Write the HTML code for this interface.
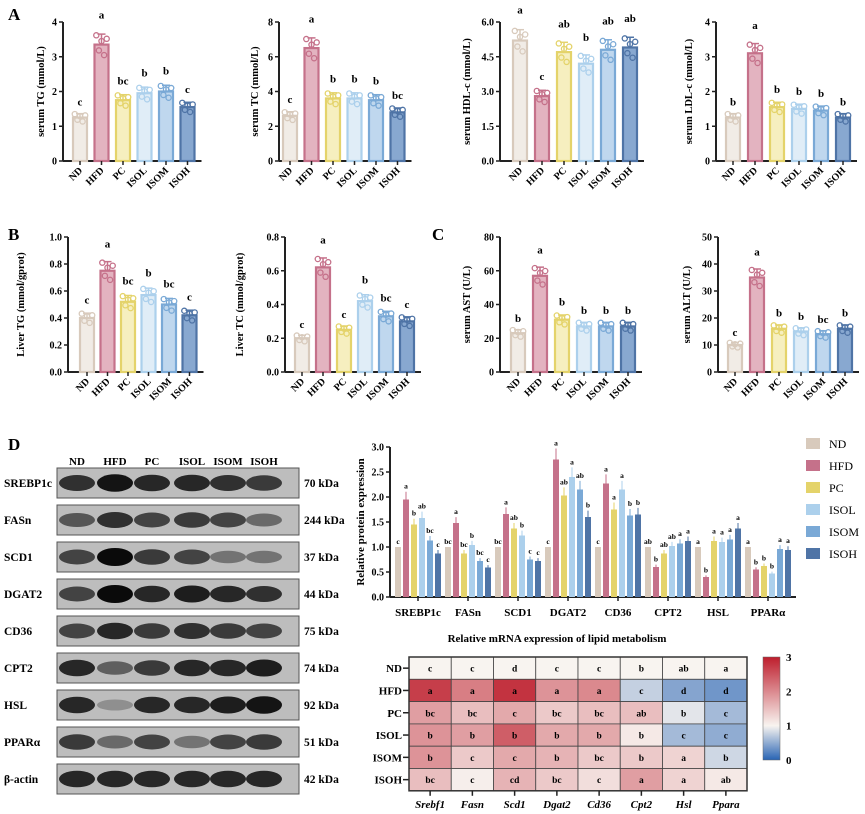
<!DOCTYPE html>
<html><head><meta charset="utf-8"><style>
body{margin:0;background:#fff}
svg{display:block;font-family:"Liberation Serif",serif;font-weight:bold}
</style></head><body>
<svg id="fig" width="865" height="814" viewBox="0 0 865 814"></svg>
<script>
const groups=["ND","HFD","PC","ISOL","ISOM","ISOH"];
const fills=["#f1ece6","#e3b3c0","#f6efbf","#e0edf7","#bfd7ee","#88a8d0"];
const strokes=["#d8cabc","#c5718a","#e4d36a","#acd0ec","#7aa9d6","#4f74a6"];
const tgVals=[1.25,3.35,1.75,1.95,2.0,1.55];const tgLet=["c","a","bc","b","b","c"];
const tcVals=[2.6,6.5,3.6,3.6,3.5,2.8];const tcLet=["c","a","b","b","b","bc"];
const hdlVals=[5.2,2.8,4.7,4.2,4.8,4.9];const hdlLet=["a","c","ab","b","ab","ab"];
const ldlVals=[1.25,3.1,1.55,1.5,1.45,1.25];const ldlLet=["b","a","b","b","b","b"];
const ltgVals=[0.4,0.75,0.52,0.57,0.5,0.42];const ltgLet=["c","a","bc","b","bc","c"];
const ltcVals=[0.2,0.62,0.25,0.42,0.33,0.3];const ltcLet=["c","a","c","b","bc","c"];
const astVals=[23,57,31,27,27,27];const astLet=["b","a","b","b","b","b"];
const altVals=[10,35,16,15,14,16];const altLet=["c","a","b","b","bc","b"];
const ticks4=["0","1","2","3","4"],ticks8=["0","2","4","6","8"],ticksHdl=["0.0","1.5","3.0","4.5","6.0"];
const ticksL1=["0.0","0.2","0.4","0.6","0.8","1.0"],ticksL08=["0.0","0.2","0.4","0.6","0.8"];
const ticks80=["0","20","40","60","80"],ticks50=["0","10","20","30","40","50"];
const proteins=["SREBP1c","FASn","SCD1","DGAT2","CD36","CPT2","HSL","PPARα"];
const protVals=[[1,1.95,1.45,1.58,1.13,0.87],[1,1.48,0.87,1.04,0.72,0.59],[1,1.66,1.37,1.23,0.75,0.72],[1,2.75,2.03,2.4,2.15,1.6],[1,2.27,1.75,2.15,1.63,1.65],[1,0.6,0.87,1.02,1.07,1.12],[1,0.4,1.12,1.1,1.15,1.37],[1,0.55,0.62,0.47,0.96,0.94]];
const protLet=[["c","a","b","ab","bc","c"],["bc","a","bc","b","bc","c"],["bc","a","ab","b","c","c"],["c","a","ab","a","ab","b"],["c","a","a","a","b","b"],["ab","b","ab","ab","a","a"],["a","b","a","a","a","a"],["a","b","b","b","a","a"]];
const protTicks=["0.0","0.5","1.0","1.5","2.0","2.5","3.0"];
const genes=["Srebf1","Fasn","Scd1","Dgat2","Cd36","Cpt2","Hsl","Ppara"];
const heatVals=[[1,1,1,1,1,1,1,1],[2.7,2.1,2.8,1.9,2.0,0.75,0.45,0.35],[1.8,1.5,1.7,1.4,1.5,1.5,0.9,0.6],[1.9,1.8,2.4,1.7,1.7,1.1,0.6,0.5],[1.9,1.4,1.7,1.6,1.4,1.4,1.3,0.8],[1.5,1.05,1.6,1.4,1.2,1.8,1.3,1.1]];
const heatLet=[["c","c","d","c","c","b","ab","a"],["a","a","a","a","a","c","d","d"],["bc","bc","c","bc","bc","ab","b","c"],["b","b","b","b","b","b","c","c"],["b","c","c","b","bc","b","a","b"],["bc","c","cd","bc","c","a","a","ab"]];
const blotRows=["SREBP1c","FASn","SCD1","DGAT2","CD36","CPT2","HSL","PPARα","β-actin"];
const blotKda=["70 kDa","244 kDa","37 kDa","44 kDa","75 kDa","74 kDa","92 kDa","51 kDa","42 kDa"];
const blotInt=[[.8,.95,.85,.85,.8,.75],[.6,.8,.7,.75,.7,.5],[.7,1,.75,.7,.45,.45],[.7,1,.85,.9,.85,.8],[.7,.85,.75,.8,.75,.7],[.85,.55,.75,.85,.85,.9],[.85,.3,.85,.85,.9,.95],[.75,.5,.7,.45,.7,.75],[.85,.85,.85,.85,.85,.85]];

const NS="http://www.w3.org/2000/svg";const svg=document.getElementById("fig");
function mk(t,a,p){const e=document.createElementNS(NS,t);for(const k in a)e.setAttribute(k,a[k]);(p||svg).appendChild(e);return e;}
function txt(s,a,p){const e=mk("text",a,p);e.textContent=s;return e;}
const dotOff=[0.08,-0.05,0.03,-0.09,0.05];
function bar(name,ax,x0,step,base,top,ticks,vals,lets,ylab,ylx){
 const g=mk("g",{});
 const tmax=parseFloat(ticks[ticks.length-1]);const y=v=>base-(v/tmax)*(base-top);
 const xEnd=x0+step*5+14;
 mk("line",{x1:ax,y1:base,x2:xEnd,y2:base,stroke:"#222","stroke-width":2},g);
 mk("line",{x1:ax,y1:base,x2:ax,y2:top,stroke:"#222","stroke-width":2},g);
 ticks.forEach(t=>{const yy=y(parseFloat(t));mk("line",{x1:ax-4,y1:yy,x2:ax,y2:yy,stroke:"#222","stroke-width":1.5},g);txt(t,{x:ax-6,y:yy+3.5,"font-size":10,"text-anchor":"end"},g);});
 txt(ylab,{x:ylx,y:(base+top)/2,"font-size":10.5,"text-anchor":"middle",transform:`rotate(-90 ${ylx} ${(base+top)/2})`},g);
 vals.forEach((v,i)=>{const cx=x0+step*i,yy=y(v);
  const r=mk("rect",{x:cx-7,y:yy,width:14,height:base-yy,fill:fills[i],stroke:strokes[i],"stroke-width":2.2},g);
  
  const e=v*0.09;mk("line",{x1:cx,y1:yy,x2:cx,y2:y(v+e),stroke:strokes[i],"stroke-width":1.5},g);
  mk("line",{x1:cx-4,y1:y(v+e),x2:cx+4,y2:y(v+e),stroke:strokes[i],"stroke-width":1.5},g);
  dotOff.forEach((d,k)=>mk("circle",{cx:cx+(k-2)*2.6,cy:y(v*(1+d)),r:2.6,fill:"none",stroke:strokes[i],"stroke-width":1.3},g));
  txt(lets[i],{x:cx,y:y(v+e+v*0.1)-4,"font-size":11,"text-anchor":"middle"},g);
  mk("line",{x1:cx,y1:base,x2:cx,y2:base+4,stroke:"#222","stroke-width":1.5},g);
  txt(groups[i],{x:cx+3,y:base+10,"font-size":10,"text-anchor":"end",transform:`rotate(-45 ${cx+3} ${base+10})`},g);
 });
}
bar("chart-serum-tg",63,80,21.5,161,22,ticks4,tgVals,tgLet,"serum TG (mmol/L)",44);
bar("chart-serum-tc",279,290,21.5,161,22,ticks8,tcVals,tcLet,"serum TC (mmol/L)",258);
bar("chart-serum-hdl",500,520,22,161,22,ticksHdl,hdlVals,hdlLet,"serum HDL-c (mmol/L)",470);
bar("chart-serum-ldl",716,733,22,161,22,ticks4,ldlVals,ldlLet,"serum LDL-c (mmol/L)",692);
bar("chart-liver-tg",68,87,20.5,372,237,ticksL1,ltgVals,ltgLet,"Liver TG (mmol/gprot)",24);
bar("chart-liver-tc",285,302,21,372,237,ticksL08,ltcVals,ltcLet,"Liver TC (mmol/gprot)",243);
bar("chart-serum-ast",500,518,22,372,237,ticks80,astVals,astLet,"serum AST (U/L)",470);
bar("chart-serum-alt",718,735,22,372,237,ticks50,altVals,altLet,"serum ALT (U/L)",690);
[["A",8,20],["B",8,240],["C",432,240],["D",8,450]].forEach(p=>{const t=txt(p[0],{x:p[1],y:p[2],"font-size":17});});

const wb=mk("g",{});
const laneX=[77,115,152,192,228,264];
groups.forEach((gname,i)=>txt(gname,{x:laneX[i],y:465,"font-size":11,"text-anchor":"middle"},wb));
blotRows.forEach((r,j)=>{const cy=483+j*37;
 mk("rect",{x:57,y:cy-15,width:242,height:30,fill:"#bdbdbd",stroke:"#555","stroke-width":1},wb);
 blotInt[j].forEach((v,i)=>{const c=Math.round(200-v*190);mk("ellipse",{cx:laneX[i],cy:cy,rx:18,ry:4+v*5,fill:`rgb(${c},${c},${c})`},wb);});
 txt(r,{x:4,y:cy+4,"font-size":11.5},wb);txt(blotKda[j],{x:304,y:cy+4,"font-size":11.5},wb);
});

const pg=mk("g",{});
const pb=597,pu=50,py=v=>pb-v*pu,pax=390;
mk("line",{x1:pax,y1:pb,x2:796,y2:pb,stroke:"#222","stroke-width":2},pg);
mk("line",{x1:pax,y1:pb,x2:pax,y2:py(3),stroke:"#222","stroke-width":2},pg);
protTicks.forEach(t=>{const yy=py(parseFloat(t));mk("line",{x1:pax-4,y1:yy,x2:pax,y2:yy,stroke:"#222","stroke-width":1.5},pg);txt(t,{x:pax-6,y:yy+3.5,"font-size":10,"text-anchor":"end"},pg);});
txt("Relative protein expression",{x:364,y:522,"font-size":11,"text-anchor":"middle",transform:"rotate(-90 364 522)"},pg);
proteins.forEach((p,k)=>{const gc=418+k*50;
 mk("line",{x1:gc,y1:pb,x2:gc,y2:pb+4,stroke:"#222","stroke-width":1.5},pg);
 txt(p,{x:gc,y:616,"font-size":11,"text-anchor":"middle"},pg);
 protVals[k].forEach((v,i)=>{const cx=gc-20+i*8,yy=py(v);
  const r=mk("rect",{x:cx-3,y:yy,width:6,height:pb-yy,fill:strokes[i]},pg);
  
  const e=i?v*0.08:0;if(e)mk("line",{x1:cx,y1:yy,x2:cx,y2:py(v+e),stroke:strokes[i],"stroke-width":1},pg);
  txt(protLet[k][i],{x:cx,y:py(v+e)-3,"font-size":7.5,"text-anchor":"middle"},pg);});
});
const lg=mk("g",{});
groups.forEach((gname,i)=>{const yy=444+i*22;mk("rect",{x:806,y:yy-6,width:14,height:11,fill:strokes[i]},lg);txt(gname,{x:829,y:yy+4,"font-size":12,"font-weight":"normal"},lg);});

const hg=mk("g",{});
txt("Relative mRNA expression of lipid metabolism",{x:557,y:642,"font-size":11,"text-anchor":"middle"},hg);
const hx=409,hy=657,cw=42.25,ch=22.3;
function col(v){let r,g,b;if(v>=1){const t=Math.min((v-1)/2,1);r=248+(190-248)*t;g=244+(30-244)*t;b=240+(45-240)*t;}else{const t=1-v;r=248+(40-248)*t;g=244+(100-244)*t;b=240+(180-240)*t;}return `rgb(${r|0},${g|0},${b|0})`;}
heatVals.forEach((row,j)=>{row.forEach((v,i)=>{const c=mk("rect",{x:hx+i*cw,y:hy+j*ch,width:cw,height:ch,fill:col(v),stroke:"#444","stroke-width":0.8},hg);
  
  txt(heatLet[j][i],{x:hx+i*cw+cw/2,y:hy+j*ch+ch/2+3.5,"font-size":9.5,"text-anchor":"middle"},hg);});
 const yy=hy+j*ch+ch/2;mk("line",{x1:hx-6,y1:yy,x2:hx,y2:yy,stroke:"#222","stroke-width":1.5},hg);
 txt(groups[j],{x:hx-7,y:yy+4,"font-size":11,"text-anchor":"end"},hg);});
mk("rect",{x:hx,y:hy,width:cw*8,height:ch*6,fill:"none",stroke:"#333","stroke-width":1.5},hg);
genes.forEach((gn,i)=>{const xx=hx+i*cw+cw/2;mk("line",{x1:xx,y1:hy+ch*6,x2:xx,y2:hy+ch*6+5,stroke:"#222","stroke-width":1.5},hg);txt(gn,{x:xx,y:808,"font-size":11,"font-style":"italic","text-anchor":"middle"},hg);});
const defs=mk("defs",{});const lgr=mk("linearGradient",{id:"cb",x1:0,y1:0,x2:0,y2:1},defs);
[[0,3],[0.667,1],[1,0]].forEach(s=>mk("stop",{offset:s[0],"stop-color":col(s[1])},lgr));
const cb=mk("rect",{x:763,y:657,width:17,height:103,fill:"url(#cb)",stroke:"#666","stroke-width":0.5});

["3","2","1","0"].forEach((t,i)=>txt(t,{x:786,y:661+i*34.3,"font-size":11},svg));
</script>
</body></html>
